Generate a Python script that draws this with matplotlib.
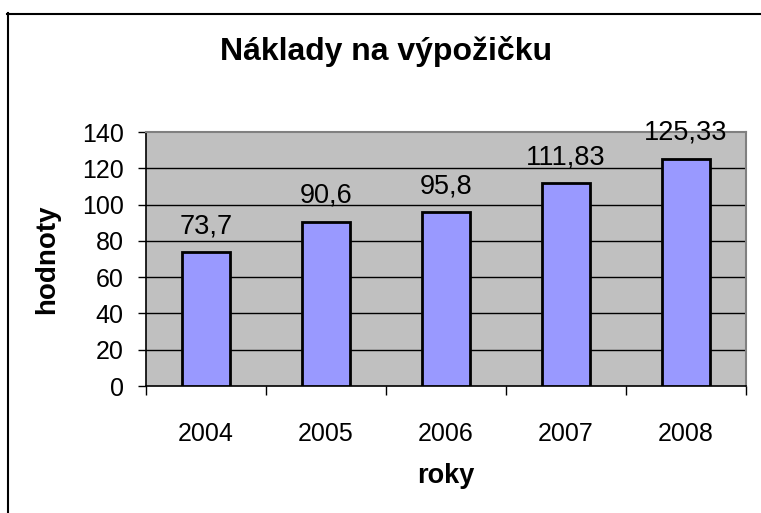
import matplotlib
matplotlib.use("Agg")
import matplotlib.pyplot as plt
from matplotlib.lines import Line2D
import numpy as np

plt.rcParams['font.family'] = ['Liberation Sans', 'DejaVu Sans']

years = ["2004", "2005", "2006", "2007", "2008"]
values = [73.7, 90.6, 95.8, 111.83, 125.33]
value_labels = ["73,7", "90,6", "95,8", "111,83", "125,33"]
yticks = [0, 20, 40, 60, 80, 100, 120, 140]
title = "Náklady na výpožičku"
xlabel = "roky"
ylabel = "hodnoty"

W, H = 761, 513
fig = plt.figure(figsize=(W / 100, H / 100), dpi=100)
fig.patch.set_facecolor("white")

L, R, T, B = 146, 746, 132, 386
ax = fig.add_axes([L / W, 1 - B / H, (R - L) / W, (B - T) / H])
ax.set_facecolor("#C0C0C0")

x = np.arange(len(years))
ax.bar(x, values, width=0.4, color="#9999FF", edgecolor="black", linewidth=2, zorder=3)
for xi, v, lab in zip(x, values, value_labels):
    ax.annotate(lab, (xi, v), xytext=(0, 13.5), textcoords="offset points",
                ha="center", va="baseline", fontsize=19.5, zorder=4,
                annotation_clip=False)

ax.set_xlim(-0.5, len(years) - 0.5)
ax.set_ylim(0, 140)
ax.set_yticks(yticks)
ax.set_yticklabels([str(t) for t in yticks])
for t in yticks[1:-1]:
    ax.axhline(t, color="black", linewidth=1, zorder=1)

ax.set_xticks(x)
ax.set_xticklabels(years)
ax.set_xticks(np.arange(len(years) + 1) - 0.5, minor=True)
ax.tick_params(axis="x", which="major", length=0, pad=26, labelsize=18)
ax.tick_params(axis="x", which="minor", length=6.5, width=1, direction="out", color="black")
ax.tick_params(axis="y", which="major", length=6, width=1, direction="out", pad=10, labelsize=18)

for s in ["top", "right"]:
    ax.spines[s].set_color("#808080")
    ax.spines[s].set_linewidth(1.5)
for s in ["left", "bottom"]:
    ax.spines[s].set_color("black")
    ax.spines[s].set_linewidth(1.2)

fig.text(386 / W, 1 - 60 / H, title, ha="center", va="baseline", fontsize=23, fontweight="bold")
fig.text(446 / W, 1 - 483 / H, xlabel, ha="center", va="baseline", fontsize=19.5, fontweight="bold")
fig.text(47 / W, 1 - 259 / H, ylabel, ha="center", va="center", rotation=90, fontsize=20, fontweight="bold")

# chart border (left and top)
fig.add_artist(Line2D([7.5 / W, 7.5 / W], [0, 1 - 13 / H], color="black", linewidth=1.5, transform=fig.transFigure))
fig.add_artist(Line2D([7 / W, 1], [1 - 13.5 / H, 1 - 13.5 / H], color="black", linewidth=1.5, transform=fig.transFigure))

fig.savefig("out.png", dpi=100)
